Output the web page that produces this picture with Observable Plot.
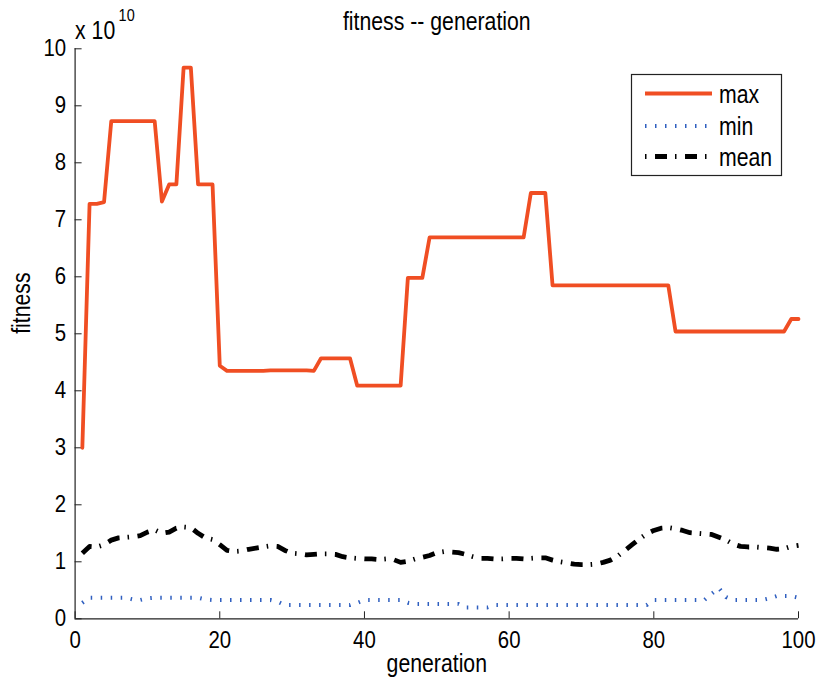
<!DOCTYPE html>
<html>
<head>
<meta charset="utf-8">
<script src="https://cdn.jsdelivr.net/npm/d3@7"></script>
<script src="https://cdn.jsdelivr.net/npm/@observablehq/plot@0.6"></script>
<style>
  html, body { margin: 0; padding: 0; background: #fff; }
  #chart { width: 818px; height: 678px; }
</style>
</head>
<body>
<div id="chart"></div>
<script>
// Values in units of 10^10
const maxVals = [
  3.00, 7.28, 7.28, 7.31, 8.73, 8.73, 8.73, 8.73, 8.73, 8.73,
  8.73, 7.32, 7.62, 7.62, 9.67, 9.67, 7.62, 7.62, 7.62, 4.44,
  4.35, 4.35, 4.35, 4.35, 4.35, 4.35, 4.36, 4.36, 4.36, 4.36,
  4.36, 4.36, 4.35, 4.57, 4.57, 4.57, 4.57, 4.57, 4.09, 4.09,
  4.09, 4.09, 4.09, 4.09, 4.09, 5.98, 5.98, 5.98, 6.69, 6.69,
  6.69, 6.69, 6.69, 6.69, 6.69, 6.69, 6.69, 6.69, 6.69, 6.69,
  6.69, 6.69, 7.47, 7.47, 7.47, 5.85, 5.85, 5.85, 5.85, 5.85,
  5.85, 5.85, 5.85, 5.85, 5.85, 5.85, 5.85, 5.85, 5.85, 5.85,
  5.85, 5.85, 5.04, 5.04, 5.04, 5.04, 5.04, 5.04, 5.04, 5.04,
  5.04, 5.04, 5.04, 5.04, 5.04, 5.04, 5.04, 5.04, 5.26, 5.26
];
const minVals = [
  0.28, 0.37, 0.37, 0.37, 0.37, 0.37, 0.37, 0.34, 0.33, 0.36,
  0.37, 0.37, 0.37, 0.37, 0.37, 0.37, 0.37, 0.34, 0.33, 0.33,
  0.33, 0.33, 0.33, 0.33, 0.33, 0.33, 0.33, 0.30, 0.24, 0.24,
  0.24, 0.24, 0.24, 0.24, 0.24, 0.24, 0.24, 0.24, 0.28, 0.33,
  0.33, 0.33, 0.33, 0.33, 0.33, 0.28, 0.26, 0.26, 0.26, 0.26,
  0.26, 0.26, 0.26, 0.20, 0.20, 0.20, 0.20, 0.24, 0.24, 0.24,
  0.24, 0.24, 0.24, 0.24, 0.24, 0.24, 0.24, 0.24, 0.24, 0.24,
  0.24, 0.24, 0.24, 0.24, 0.24, 0.24, 0.24, 0.24, 0.24, 0.33,
  0.33, 0.33, 0.33, 0.33, 0.33, 0.33, 0.33, 0.44, 0.54, 0.38,
  0.33, 0.33, 0.33, 0.33, 0.33, 0.36, 0.40, 0.40, 0.40, 0.37
];
const meanVals = [
  1.15, 1.27, 1.26, 1.30, 1.38, 1.42, 1.43, 1.44, 1.46, 1.52,
  1.56, 1.50, 1.52, 1.59, 1.61, 1.60, 1.50, 1.42, 1.39, 1.30,
  1.20, 1.18, 1.19, 1.22, 1.24, 1.26, 1.28, 1.27, 1.20, 1.15,
  1.14, 1.12, 1.13, 1.14, 1.14, 1.13, 1.09, 1.07, 1.06, 1.05,
  1.05, 1.04, 1.05, 1.04, 0.99, 1.01, 1.05, 1.08, 1.11, 1.16,
  1.18, 1.17, 1.16, 1.13, 1.09, 1.06, 1.06, 1.05, 1.05, 1.06,
  1.06, 1.05, 1.06, 1.07, 1.07, 1.03, 1.00, 0.98, 0.96, 0.95,
  0.95, 0.96, 0.99, 1.03, 1.10, 1.20, 1.30, 1.40, 1.49, 1.55,
  1.59, 1.60, 1.58, 1.55, 1.51, 1.50, 1.49, 1.48, 1.43, 1.38,
  1.31, 1.27, 1.26, 1.26, 1.25, 1.24, 1.22, 1.23, 1.27, 1.29
];
const xTicks = [0, 20, 40, 60, 80, 100];
const yTicks = [0, 1, 2, 3, 4, 5, 6, 7, 8, 9, 10];
const seriesNames = ["max", "min", "mean"];
const titleText = "fitness -- generation";
const xLabel = "generation";
const yLabel = "fitness";

const FONT = "'Liberation Sans', Arial, Helvetica, sans-serif";
const SX = 0.85; // horizontal glyph squeeze to mimic the reference's narrow text
const colMax = "#f04e23", colMin = "#2f5fc0", colMean = "#000000";
const dashMin = "1.5,8.5", dashMean = "12,8,1.5,8.5";
const gen = (d, i) => i + 1;

const chart = Plot.plot({
  width: 818, height: 678,
  marginLeft: 74.6, marginRight: 20, marginTop: 48.3, marginBottom: 59.7,
  x: {domain: [0, 100]},
  y: {domain: [0, 10]},
  style: {fontFamily: FONT, fontSize: "24px", background: "#fff", color: "#000", overflow: "visible"},
  marks: [
    Plot.ruleX([0], {stroke: "#222", strokeWidth: 1.2}),
    Plot.ruleY([0], {stroke: "#222", strokeWidth: 1.2}),
    Plot.axisX({ticks: xTicks, tickSize: -7, tickPadding: 19, label: null, fontSize: 24, stroke: "#222"}),
    Plot.axisY({ticks: yTicks, tickSize: -7, tickPadding: 16, label: null, fontSize: 24, stroke: "#222"}),
    Plot.line(minVals, {x: gen, y: d => d, stroke: colMin, strokeWidth: 4, strokeDasharray: dashMin, strokeLinecap: "butt"}),
    Plot.line(meanVals, {x: gen, y: d => d, stroke: colMean, strokeWidth: 4.8, strokeDasharray: dashMean, strokeLinecap: "butt"}),
    Plot.line(maxVals, {x: gen, y: d => d, stroke: colMax, strokeWidth: 3.8, strokeLinejoin: "round"}),
    Plot.text([titleText], {frameAnchor: "top", lineAnchor: "middle", dy: -27, fontSize: 25, fill: "#000"}),
    Plot.text([xLabel], {frameAnchor: "bottom", lineAnchor: "middle", dy: 45, fontSize: 25, fill: "#000"}),
    Plot.text([yLabel], {frameAnchor: "left", lineAnchor: "middle", dx: -53, rotate: -90, fontSize: 25, fill: "#000"}),
    Plot.text(["x 10"], {frameAnchor: "top-left", lineAnchor: "middle", textAnchor: "start", dx: 0, dy: -18, fontSize: 25, fill: "#000"}),
    Plot.text(["10"], {frameAnchor: "top-left", lineAnchor: "middle", textAnchor: "start", dx: 43.5, dy: -33, fontSize: 17, fill: "#000"})
  ]
});

// Legend box
const svg = d3.select(chart);
const lg = svg.append("g").attr("font-family", FONT).attr("font-size", 25).attr("text-anchor", "start");
lg.append("rect").attr("x", 631.5).attr("y", 74.5).attr("width", 150).attr("height", 101)
  .attr("fill", "#fff").attr("stroke", "#222").attr("stroke-width", 1.2);
const styles = [
  {stroke: colMax, width: 3.8, dash: null},
  {stroke: colMin, width: 4, dash: dashMin},
  {stroke: colMean, width: 4.8, dash: "1.5,8.5,12,8"}
];
const rowY = [93.5, 126, 156.5];
seriesNames.forEach((name, i) => {
  const s = styles[i];
  const ln = lg.append("line").attr("x1", 645).attr("x2", 712).attr("y1", rowY[i]).attr("y2", rowY[i])
    .attr("stroke", s.stroke).attr("stroke-width", s.width);
  if (s.dash) ln.attr("stroke-dasharray", s.dash);
  lg.append("text").attr("transform", `translate(719,${rowY[i]})`).attr("dy", "0.36em")
    .attr("fill", "#000").text(name);
});

// squeeze every text horizontally around its own anchor point
svg.selectAll("text").each(function () {
  const t = this.getAttribute("transform") || "";
  const xs = parseFloat(this.getAttribute("x"));
  const x = Number.isFinite(xs) ? xs : 0;
  this.setAttribute("transform", `${t} translate(${x},0) scale(${SX},1) translate(${-x},0)`);
});

document.getElementById("chart").appendChild(chart);
</script>
</body>
</html>
